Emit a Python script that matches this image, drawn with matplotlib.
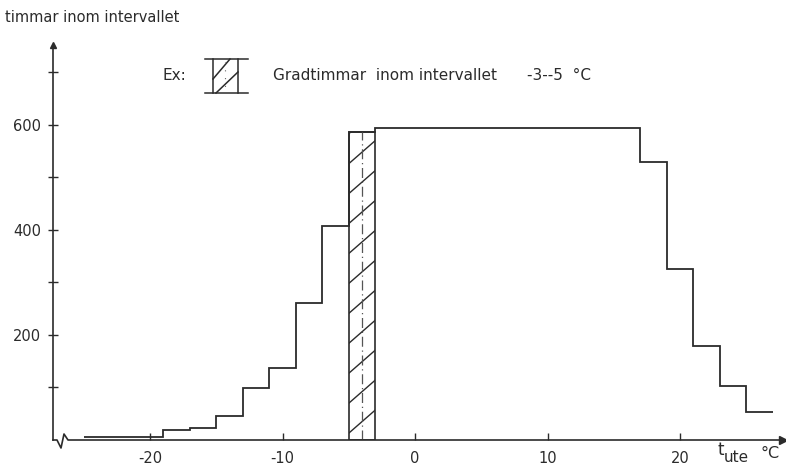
import matplotlib.pyplot as plt
import numpy as np

# hours per 2-degree interval of outdoor temperature
edges = [-25, -19, -17, -15, -13, -11, -9, -7, -5, -3, 17, 19, 21, 23, 25, 27]
hours = [5, 19, 23, 46, 99, 137, 261, 408, 586, 594, 530, 326, 179, 103, 53]
hatch_lo, hatch_hi = -5, -3
hatch_value = 586

xticks = [-20, -10, 0, 10, 20]
yticks = [200, 400, 600]
yminor = [100, 300, 500, 700]

ink = '#2b2b2b'
plt.rcParams['font.family'] = 'DejaVu Sans'
plt.rcParams['mathtext.default'] = 'regular'

W, H = 786, 469
fig = plt.figure(figsize=(W / 100, H / 100), dpi=100)
ax = fig.add_axes([53 / W, 29 / H, 730 / W, 395 / H])
ax.set_xlim(-27.32, 27.77)
ax.set_ylim(0, 752)

# step curve
ax.stairs(hours, edges, baseline=None, color=ink, linewidth=1.3)

# hatched example interval
bar = ax.bar((hatch_lo + hatch_hi) / 2, hatch_value, width=hatch_hi - hatch_lo,
             fill=False, edgecolor=ink, linewidth=1.2)[0]
rise, step = 44, 57
for y0 in np.arange(-rise, hatch_value, step):
    ln, = ax.plot([hatch_lo, hatch_hi], [y0, y0 + rise], color=ink, linewidth=1.0)
    ln.set_clip_path(bar)
ax.plot([(hatch_lo + hatch_hi) / 2] * 2, [0, hatch_value], color='#555555',
        linewidth=0.9, linestyle=(0, (8, 3, 1, 3)))

# axes styling
for s in ['top', 'right', 'bottom']:
    ax.spines[s].set_visible(False)
ax.spines['left'].set_color(ink)
ax.spines['left'].set_linewidth(1.2)

ax.set_xticks(xticks)
ax.set_xticklabels([str(t) for t in xticks])
ax.set_yticks(yticks)
ax.set_yticklabels([str(t) for t in yticks])
ax.set_yticks(yminor, minor=True)
ax.tick_params(axis='x', direction='in', length=5, width=1, color=ink,
               labelsize=10.5, labelcolor=ink, pad=8)
ax.tick_params(axis='y', which='both', direction='inout', length=7, width=1,
               color=ink, labelsize=10.5, labelcolor=ink, pad=5)

# x axis with break squiggle and arrows
sq_x = np.array([0, 4, 8, 11, 15, 730]) / 730
sq_y = np.array([0, 0, -8, 6, 0, 0]) / 395
ax.plot(sq_x, sq_y, color=ink, linewidth=1.2, transform=ax.transAxes, clip_on=False)
ax.plot([1], [0], marker='>', color=ink, markersize=6, transform=ax.transAxes, clip_on=False)
ax.plot([0], [1], marker='^', color=ink, markersize=5, transform=ax.transAxes, clip_on=False)

# labels
fig.text(5 / W, 1 - 17 / H, 'timmar inom intervallet', fontsize=10.5, color=ink,
         ha='left', va='center')
fig.text(717 / W, 1 - 455 / H, 't', fontsize=12, color=ink, ha='left', va='baseline')
fig.text(724 / W, 1 - 462 / H, 'ute', fontsize=11, color=ink, ha='left', va='baseline')
fig.text(760 / W, 1 - 458 / H, '°C', fontsize=11.5, color=ink, ha='left', va='baseline')

# legend example
fig.text(163 / W, 1 - 75 / H, 'Ex:', fontsize=11, color=ink, ha='left', va='center')
fig.text(273 / W, 1 - 75 / H, 'Gradtimmar  inom intervallet', fontsize=11,
         color=ink, ha='left', va='center')
fig.text(527 / W, 1 - 75 / H, '-3--5  °C', fontsize=11,
         color=ink, ha='left', va='center')
sym = [
    ([205, 248], [59, 59]),
    ([205, 248], [93, 93]),
    ([213, 213], [59, 93]),
    ([238, 238], [59, 93]),
    ([213, 230], [79, 59]),
    ([216, 238], [93, 72]),
]
for xs, ys in sym:
    ax.plot(np.array(xs) / W, 1 - np.array(ys) / H, color=ink, linewidth=1.1,
            transform=fig.transFigure, clip_on=False)
ax.plot([225 / W, 225 / W], [1 - 62 / H, 1 - 92 / H], color='#666666', linewidth=0.8,
        linestyle=(0, (1, 6)), transform=fig.transFigure, clip_on=False)

fig.savefig('out.png', dpi=100)
